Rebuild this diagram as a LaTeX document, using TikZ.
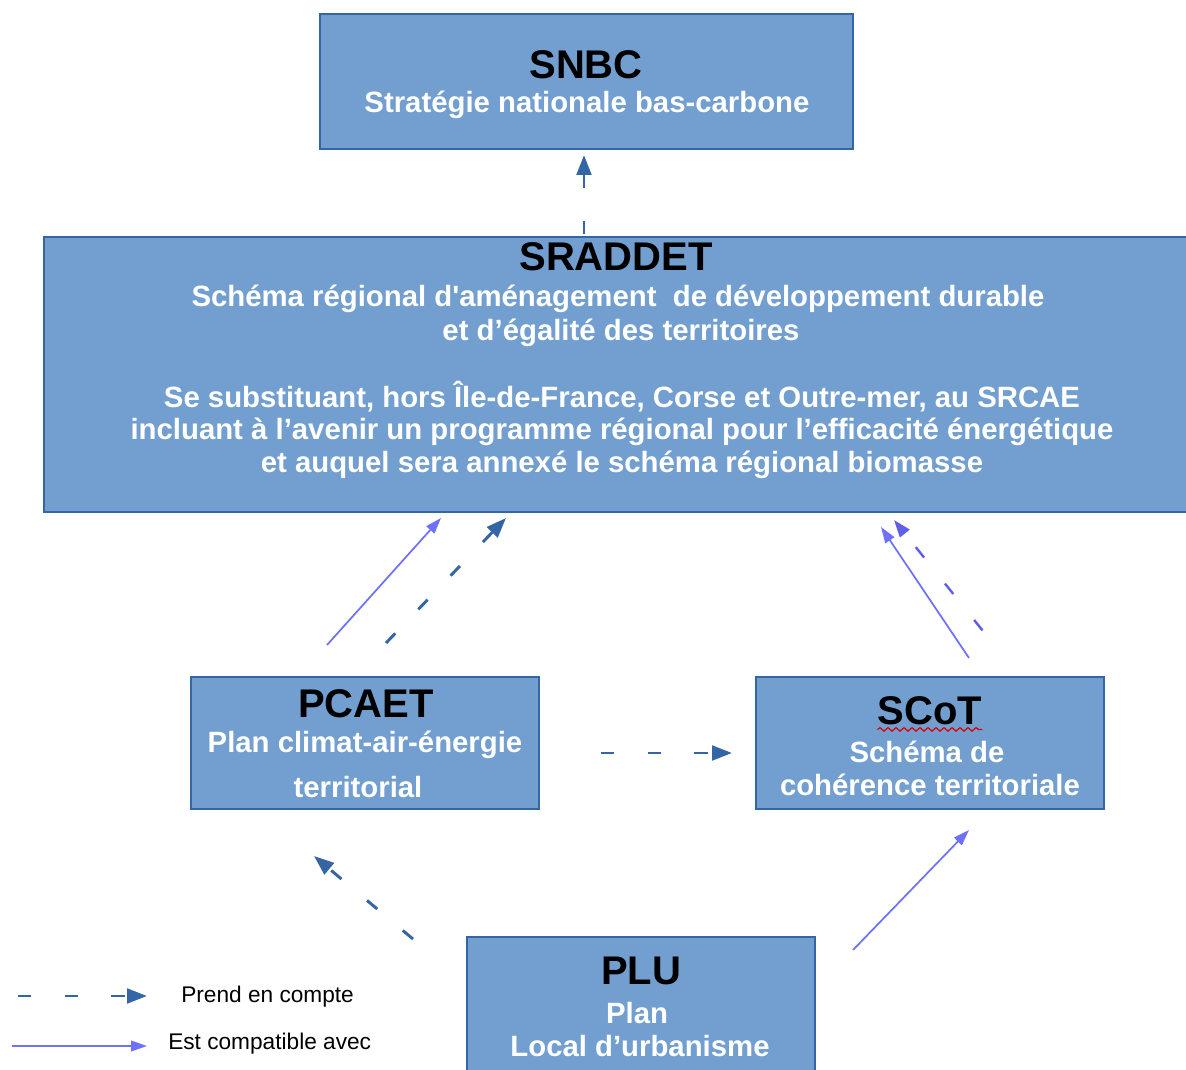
\documentclass[tikz,border=0pt]{standalone}
\usepackage{fontspec}
\setmainfont{Liberation Sans}
\usetikzlibrary{arrows.meta,decorations.pathmorphing,calc}
\definecolor{boxfill}{HTML}{729FCF}
\definecolor{boxline}{HTML}{3465A4}
\definecolor{lightarrow}{RGB}{112,112,255}
\definecolor{midarrow}{RGB}{95,95,235}
\begin{document}
\begin{tikzpicture}[x=0.75pt,y=-0.75pt,
  boxx/.style={draw=boxline, fill=boxfill, line width=1.1pt, inner sep=0pt},
  ttl/.style={font=\fontsize{30}{34}\selectfont\bfseries, text=black, inner sep=0pt},
  sub/.style={font=\fontsize{22}{25}\selectfont\bfseries, text=white, inner sep=0pt, align=center},
  lgd/.style={font=\fontsize{17}{19}\selectfont, text=black, inner sep=0pt, anchor=west},
  takes/.style={draw=boxline, line width=2.2pt, dash pattern=on 10pt off 25pt,
     -{Triangle[length=15pt,width=11pt]}},
  takeslight/.style={draw=midarrow, line width=1.8pt, dash pattern=on 10pt off 25pt,
     -{Triangle[length=13pt,width=9pt]}},
  compat/.style={draw=lightarrow, line width=1.3pt, -{Triangle[length=12pt,width=8pt]}}
]
\useasboundingbox (0,0) rectangle (1186,1070);
\clip (0,0) rectangle (1186,1070);

% boxes
\node[boxx, minimum width=533*0.75pt, minimum height=135*0.75pt] (snbc) at (586.5,81.5) {};
\node[boxx, minimum width=1146*0.75pt, minimum height=275*0.75pt] (sraddet) at (617,374.5) {};
\node[boxx, minimum width=348*0.75pt, minimum height=132*0.75pt] (pcaet) at (365,743) {};
\node[boxx, minimum width=348*0.75pt, minimum height=132*0.75pt] (scot) at (930,743) {};
\node[boxx, minimum width=348*0.75pt, minimum height=140*0.75pt] (plu) at (641,1007) {};

% texts
\node[ttl] (snbcT) at (586,65) {SNBC};
\node[sub] (snbcS) at (587,105) {Stratégie nationale bas-carbone};

\node[ttl] (sradT) at (616,257) {SRADDET};
\node[sub] (sradS1) at (618,299) {Schéma régional d\textquotesingle aménagement\ \ de développement durable};
\node[sub] (sradS2) at (621,333) {et d’égalité des territoires};
\node[sub] (sradS3) at (622,397) {Se substituant, hors Île-de-France, Corse et Outre-mer, au SRCAE};
\node[sub] (sradS4) at (622,432) {incluant à l’avenir un programme régional pour l’efficacité énergétique};
\node[sub] (sradS5) at (622,465) {et auquel sera annexé le schéma régional biomasse};

\node[ttl] (pcaetT) at (366,704) {PCAET};
\node[sub] (pcaetS1) at (365,745) {Plan climat-air-énergie};
\node[sub] (pcaetS2) at (358,787) {territorial};

\node[ttl] (scotT) at (930,711) {SCoT};
\node[sub] (scotS1) at (927,752) {Schéma de};
\node[sub] (scotS2) at (930,785) {cohérence territoriale};
\coordinate (wv1) at ($(scotT.south west)+(0,4)$);
\coordinate (wv2) at ($(scotT.south east)+(0,4)$);
\draw[red!85!black, line width=0.9pt, decorate,
  decoration={snake, amplitude=1.3pt, segment length=6pt}] (wv1) -- (wv2);

\node[ttl] (pluT) at (641,971) {PLU};
\node[sub] (pluS1) at (637,1013) {Plan};
\node[sub] (pluS2) at (640,1046) {Local d’urbanisme};

% connector end points
\coordinate (a1s) at (584,237);  \coordinate (a1e) at (584,155);
\coordinate (a2s) at (327,645);  \coordinate (a2e) at (441,518);
\coordinate (a3s) at (386,643);  \coordinate (a3e) at (506,518);
\coordinate (a4s) at (969,658);  \coordinate (a4e) at (881,527);
\coordinate (a5s) at (995,646);  \coordinate (a5e) at (894,520);
\coordinate (a6s) at (601,753);  \coordinate (a6e) at (732,753);
\coordinate (a7s) at (413,939);  \coordinate (a7e) at (314,856);
\coordinate (a8s) at (853,950);  \coordinate (a8e) at (969,830);

\draw[takes, dash phase=-2pt] (a1s) -- (a1e);
\draw[compat] (a2s) -- (a2e);
\draw[takes] (a3s) -- (a3e);
\draw[compat] (a4s) -- (a4e);
\draw[takeslight, dash phase=20pt] (a5s) -- (a5e);
\draw[takes] (a6s) -- (a6e);
\draw[takes] (a7s) -- (a7e);
\draw[compat] (a8s) -- (a8e);

% legend
\coordinate (l1s) at (18,996);  \coordinate (l1e) at (147,996);
\coordinate (l2s) at (12,1046); \coordinate (l2e) at (147,1046);
\draw[takes] (l1s) -- (l1e);
\draw[compat] (l2s) -- (l2e);
\node[lgd] (lg1) at (181,997) {Prend en compte};
\node[lgd] (lg2) at (168,1044) {Est compatible avec};
\end{tikzpicture}
\end{document}
